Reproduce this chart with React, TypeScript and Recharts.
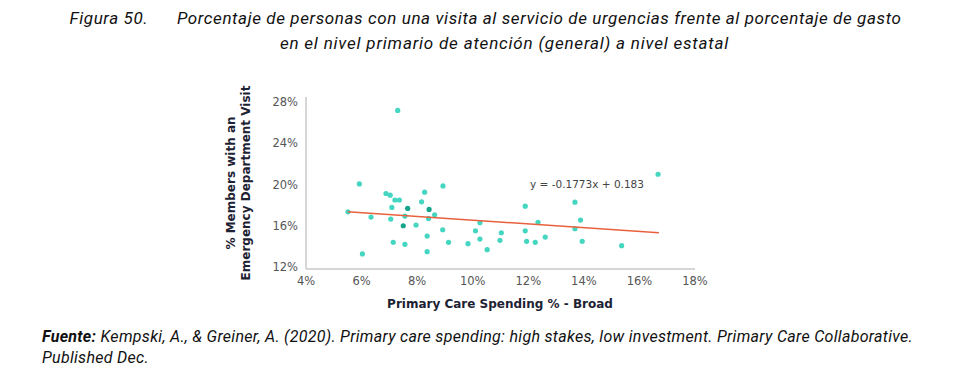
import React from "react";
import { ScatterChart, Scatter, XAxis, YAxis } from "recharts";

const spendingPct = [
  7.30, 5.92, 5.51, 6.34, 6.03, 6.88, 7.03, 7.20, 7.36, 7.09, 7.05, 7.56, 7.96,
  7.14, 7.56, 8.27, 8.16, 8.63, 8.41, 8.36, 8.36, 8.93, 8.92, 9.13, 9.83,
  16.67, 11.89, 13.68, 10.26, 10.10, 10.26, 10.52, 11.03, 10.98, 11.89, 11.94,
  12.25, 12.35, 12.61, 13.68, 13.88, 13.94, 15.36,
];
const edVisitPct = [
  27.2, 20.06, 17.35, 16.84, 13.26, 19.13, 18.97, 18.5, 18.5, 17.78, 16.65, 16.94, 16.07,
  14.39, 14.2, 19.26, 18.32, 17.06, 16.7, 15.0, 13.48, 19.87, 15.61, 14.39, 14.26,
  21.0, 17.9, 18.29, 16.29, 15.51, 14.71, 13.68, 15.32, 14.58, 15.51, 14.49,
  14.39, 16.33, 14.9, 15.71, 16.55, 14.49, 14.06,
];
// overlapping (darker) points
const overlapX = [7.66, 7.5, 8.43];
const overlapY = [17.68, 16.0, 17.58];
// regression line endpoints (y = -0.1773x + 0.183)
const trendX = [5.5, 16.7];
const trendY = [17.35, 15.33];

const xTicks = [4, 6, 8, 10, 12, 14, 16, 18];
const yTicks = [12, 16, 20, 24, 28];

const points = spendingPct.map((x, i) => ({ x, y: edVisitPct[i] }));
const overlap = overlapX.map((x, i) => ({ x, y: overlapY[i] }));
const trend = trendX.map((x, i) => ({ x, y: trendY[i] }));

const tickFont = "'DejaVu Sans', sans-serif";
const textFont = "'Roboto', sans-serif";

const Dot = (color: string) => (props: any) => (
  <circle cx={props.cx} cy={props.cy} r={2.6} fill={color} />
);

export default function App() {
  return (
    <div
      style={{
        position: "absolute",
        left: 0,
        top: 0,
        width: 971,
        height: 377,
        background: "#fff",
        overflow: "hidden",
      }}
    >
      <div
        style={{
          position: "absolute",
          left: 0,
          top: 6,
          width: 971,
          textAlign: "center",
          fontFamily: textFont,
          fontStyle: "italic",
          fontSize: 17,
          letterSpacing: 0.6,
          lineHeight: "25px",
          color: "#111",
        }}
      >
        <div style={{ whiteSpace: "pre" }}>
          {"Figura 50.      Porcentaje de personas con una visita al servicio de urgencias frente al porcentaje de gasto"}
        </div>
        <div style={{ paddingLeft: 38, letterSpacing: 0.8 }}>
          en el nivel primario de atención (general) a nivel estatal
        </div>
      </div>

      <div style={{ position: "absolute", left: 0, top: 0 }}>
        <ScatterChart
          width={971}
          height={377}
          margin={{ top: 97, right: 276, bottom: 78, left: 246 }}
        >
          <XAxis
            type="number"
            dataKey="x"
            domain={[4, 18]}
            ticks={xTicks}
            tickFormatter={(v: number) => `${v}%`}
            tickLine={false}
            axisLine={{ stroke: "#c8c8c8", strokeWidth: 1.5 }}
            tick={{ fill: "#555", fontSize: 11.5, fontFamily: tickFont }}
            tickMargin={2}
            height={30}
            allowDataOverflow
          />
          <YAxis
            type="number"
            dataKey="y"
            domain={[11.8, 28.5]}
            ticks={yTicks}
            tickFormatter={(v: number) => `${v}%`}
            tickLine={false}
            axisLine={{ stroke: "#c8c8c8", strokeWidth: 1.5 }}
            tick={{ fill: "#555", fontSize: 11.5, fontFamily: tickFont }}
            tickMargin={2}
            width={60}
            allowDataOverflow
          />
          <Scatter
            data={points}
            shape={Dot("#45d6c1")}
            isAnimationActive={false}
          />
          <Scatter
            data={overlap}
            shape={Dot("#17a48c")}
            isAnimationActive={false}
          />
          <Scatter
            data={trend}
            line={{ stroke: "#e8603c", strokeWidth: 1.5 }}
            shape={() => null}
            isAnimationActive={false}
          />
          <text
            x={587}
            y={188}
            textAnchor="middle"
            fontSize={10.5}
            fontFamily={tickFont}
            fill="#444"
          >
            y = -0.1773x + 0.183
          </text>
          <text
            x={500}
            y={308}
            textAnchor="middle"
            fontSize={12}
            fontWeight={700}
            fontFamily={tickFont}
            fill="#1d2233"
          >
            Primary Care Spending % - Broad
          </text>
          <text
            transform="translate(235,183) rotate(-90)"
            textAnchor="middle"
            fontSize={12}
            fontWeight={700}
            fontFamily={tickFont}
            fill="#1d2233"
          >
            % Members with an
          </text>
          <text
            transform="translate(250,183) rotate(-90)"
            textAnchor="middle"
            fontSize={12}
            fontWeight={700}
            fontFamily={tickFont}
            fill="#1d2233"
          >
            Emergency Department Visit
          </text>
        </ScatterChart>
      </div>

      <div
        style={{
          position: "absolute",
          left: 42,
          top: 326,
          fontFamily: textFont,
          fontStyle: "italic",
          fontSize: 16,
          letterSpacing: 0.3,
          lineHeight: "21px",
          color: "#111",
        }}
      >
        <div>
          <b>Fuente:</b> Kempski, A., &amp; Greiner, A. (2020). Primary care spending: high stakes, low investment. Primary Care Collaborative.
        </div>
        <div>Published Dec.</div>
      </div>
    </div>
  );
}
